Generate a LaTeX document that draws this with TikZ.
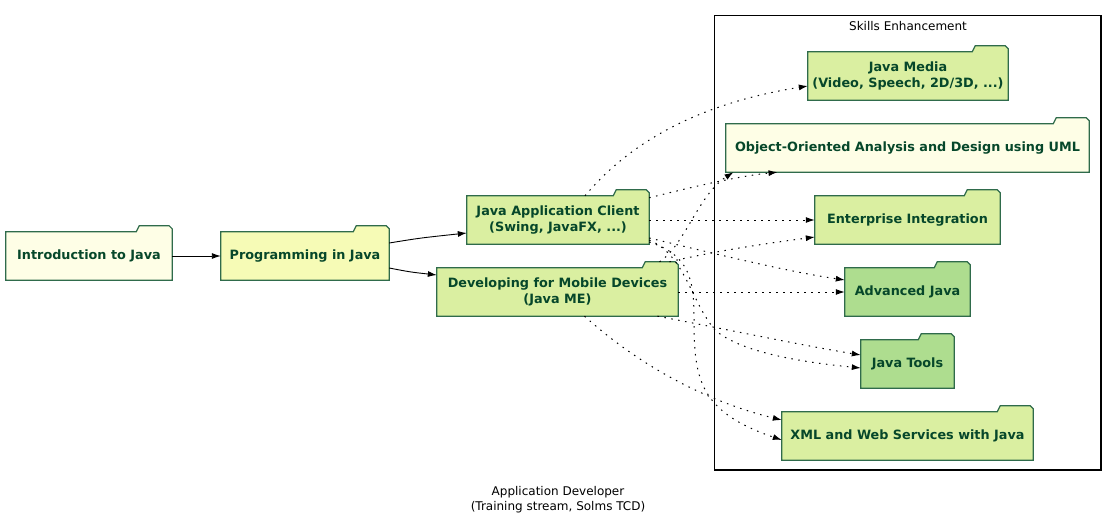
\documentclass[tikz,border=0pt]{standalone}
\usepackage{fontspec}
\setmainfont{DejaVu Sans}
\usetikzlibrary{calc,arrows.meta,backgrounds}
\definecolor{ivory}{HTML}{FEFEE6}
\definecolor{paleyel}{HTML}{F6FBB6}
\definecolor{lgreen}{HTML}{DAEFA1}
\definecolor{mgreen}{HTML}{AEDD8F}
\definecolor{txtgreen}{HTML}{06472A}
\definecolor{edgegreen}{HTML}{2F6B4B}
\newcommand\nodefont{\fontsize{12.8}{16}\selectfont\bfseries}
\newcommand\labfont{\fontsize{12}{15}\selectfont}
\newcommand\folderbg[2]{%
  \filldraw[folderline, fill=#2] (#1.south west) -- (#1.north west)
    -- ($(#1.north east)+(-36,0)$) -- ($(#1.north east)+(-33,-6)$)
    -- ($(#1.north east)+(-3,-6)$) -- ($(#1.north east)+(0,-3)$)
    -- (#1.south east) -- cycle;}
\tikzset{
  pkg/.style={draw=none, inner sep=0pt, align=center, text=txtgreen,
    font=\nodefont, minimum height=48pt},
  folderline/.style={draw=edgegreen, line width=1.2pt, line join=miter},
  solidarr/.style={-{Latex[length=9pt,width=6pt]}, line width=0.9pt, black},
  dotarr/.style={-{Latex[length=9pt,width=6pt]}, line width=1pt, black,
    dash pattern=on 1.5pt off 5.5pt},
}
\begin{document}
\begin{tikzpicture}[x=1pt,y=-1pt]
\useasboundingbox (0,0) rectangle (1117,527);
% cluster
\draw[black, line width=1.1pt] (714.5,15.5) rectangle (1101,470);
\node[font=\labfont, text=black] (clab) at (908,26.5) {Skills Enhancement};
% nodes
\node[pkg, minimum width=166pt] (intro) at (89,256) {Introduction to Java};
\node[pkg, minimum width=168pt] (prog) at (305,256) {Programming in Java};
\node[pkg, minimum width=182pt] (jac) at (558,220) {Java Application Client\\(Swing, JavaFX, ...)};
\node[pkg, minimum width=241pt] (dmd) at (557.5,292) {Developing for Mobile Devices\\(Java ME)};
\node[pkg, minimum width=200pt] (media) at (908,76) {Java Media\\(Video, Speech, 2D/3D, ...)};
\node[pkg, minimum width=363pt] (ooad) at (907.5,148) {Object-Oriented Analysis and Design using UML};
\node[pkg, minimum width=185pt] (ei) at (907.5,220) {Enterprise Integration};
\node[pkg, minimum width=125pt] (aj) at (907.5,292) {Advanced Java};
\node[pkg, minimum width=93pt] (jt) at (907.5,364) {Java Tools};
\node[pkg, minimum width=251pt] (xml) at (907.5,436) {XML and Web Services with Java};
\begin{scope}[on background layer]
\folderbg{intro}{ivory}
\folderbg{prog}{paleyel}
\folderbg{jac}{lgreen}
\folderbg{dmd}{lgreen}
\folderbg{media}{lgreen}
\folderbg{ooad}{ivory}
\folderbg{ei}{lgreen}
\folderbg{aj}{mgreen}
\folderbg{jt}{mgreen}
\folderbg{xml}{lgreen}
\end{scope}
% solid edges
\draw[solidarr] (intro.east) -- (prog.west);
\draw[solidarr] ([yshift=13pt]prog.east) .. controls (420,238) .. ([yshift=-13pt]jac.west);
\draw[solidarr] ([yshift=-12pt]prog.east) .. controls (410,272) .. ([yshift=17pt]dmd.west);
% dotted edges from jac
\draw[dotarr] ([xshift=27pt]jac.north) .. controls (640,130) and (720,100) .. ([yshift=-10pt]media.west);
\draw[dotarr] ([yshift=-2pt]jac.north east) .. controls (700,185) and (740,176) .. ([xshift=-130pt]ooad.south);
\draw[dotarr] (jac.east) -- (ei.west);
\draw[dotarr] ([yshift=-18pt]jac.east) .. controls (720,255) and (790,272) .. ([yshift=12pt]aj.west);
\draw[dotarr] ([yshift=-20pt]jac.east) .. controls (685,255) and (690,300) .. (715,330) .. controls (740,352) and (800,362) .. ([yshift=-4pt]jt.west);
\draw[dotarr] ([yshift=-22pt]jac.east) .. controls (690,255) and (694,280) .. (694,320) .. controls (694,380) and (700,412) .. ([yshift=-4pt]xml.west);
% dotted edges from dmd
\draw[dotarr] ([xshift=102pt,yshift=6pt]dmd.north) .. controls (685,245) and (698,195) .. ([xshift=-174pt]ooad.south);
\draw[dotarr] ([xshift=112pt,yshift=6pt]dmd.north) .. controls (720,250) and (770,243) .. ([yshift=-17pt]ei.west);
\draw[dotarr] (dmd.east) -- (aj.west);
\draw[dotarr] ([xshift=100pt]dmd.south) .. controls (720,328) and (800,345) .. ([yshift=9pt]jt.west);
\draw[dotarr] ([xshift=27pt]dmd.south) .. controls (650,375) and (720,405) .. ([yshift=16pt]xml.west);
% bottom label
\node[font=\labfont, text=black, align=center] (glab) at (558,499.5) {Application Developer\\(Training stream, Solms TCD)};
\end{tikzpicture}
\end{document}
